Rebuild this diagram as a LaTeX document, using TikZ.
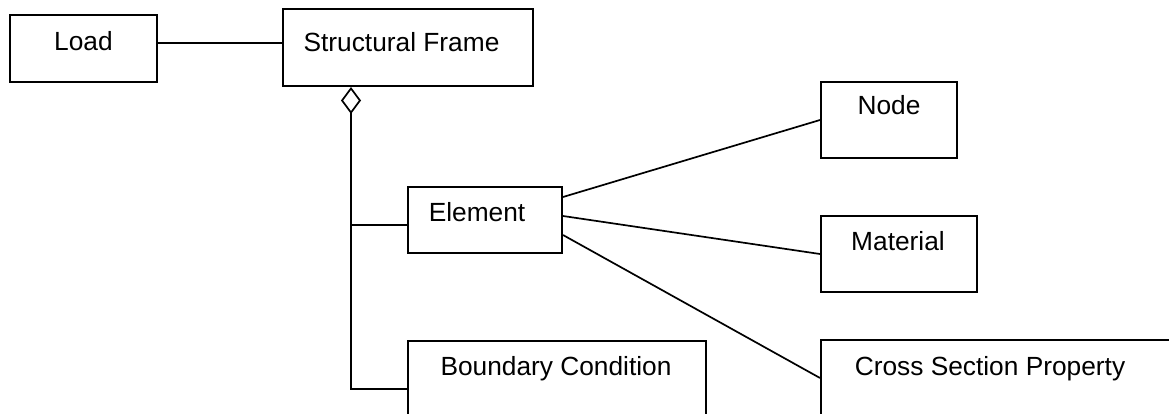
\documentclass[tikz,border=0pt]{standalone}
\usepackage{fontspec}
\setmainfont{Liberation Sans}
\usetikzlibrary{arrows.meta}

\begin{document}
\begin{tikzpicture}[x=1pt, y=-1pt,
  box/.style={draw, line width=2pt, rectangle, inner sep=0pt},
  lbl/.style={anchor=base, inner sep=0pt, font=\fontsize{26.3}{31}\selectfont},
  link/.style={line width=1.7pt},
  agg/.style={line width=1.7pt, {Diamond[open, length=27pt, width=20pt, line width=1.7pt]}-}
]
\useasboundingbox (0,0) rectangle (1169,414);
\clip (0,0) rectangle (1169,414);

% class boxes
\node[box, minimum width=147pt, minimum height=67pt] (load) at (83.5,48.5) {};
\node[box, minimum width=250pt, minimum height=77pt] (sf)   at (408,47.5) {};
\node[box, minimum width=154pt, minimum height=66pt] (elem) at (485,220) {};
\node[box, minimum width=136pt, minimum height=76pt] (nd)   at (889,120) {};
\node[box, minimum width=156pt, minimum height=76pt] (mat)  at (899,254) {};
\node[box, minimum width=298pt, minimum height=75pt] (bc)   at (557,378.5) {};
\node[box, minimum width=400pt, minimum height=76pt] (csp)  at (1021,378) {};

% class names
\node[lbl] (tload) at (83.5,51)  {Load};
\node[lbl] (tsf)   at (401.5,52) {Structural Frame};
\node[lbl] (telem) at (477,222)  {Element};
\node[lbl] (tnd)   at (889,115)  {Node};
\node[lbl] (tmat)  at (898,250)  {Material};
\node[lbl] (tbc)   at (556,375)  {Boundary Condition};
\node[lbl] (tcsp)  at (990,375)  {Cross Section Property};

% association Load -- Structural Frame
\coordinate (lj) at (0,43);
\draw[link] (load.east |- lj) -- (sf.west |- lj);

% aggregation trunk
\coordinate (bend) at (351,389);
\coordinate (ej) at (351,225);
\draw[agg] (sf.south -| bend) -- (bend) -- (bc.west |- bend);
\draw[link] (ej) -- (elem.west |- ej);

% associations of Element
\draw[link] ([yshift=23pt]elem.east) -- (nd.west);
\draw[link] ([yshift=4pt]elem.east) -- (mat.west);
\draw[link] ([yshift=-15pt]elem.east) -- (csp.west);
\end{tikzpicture}
\end{document}
